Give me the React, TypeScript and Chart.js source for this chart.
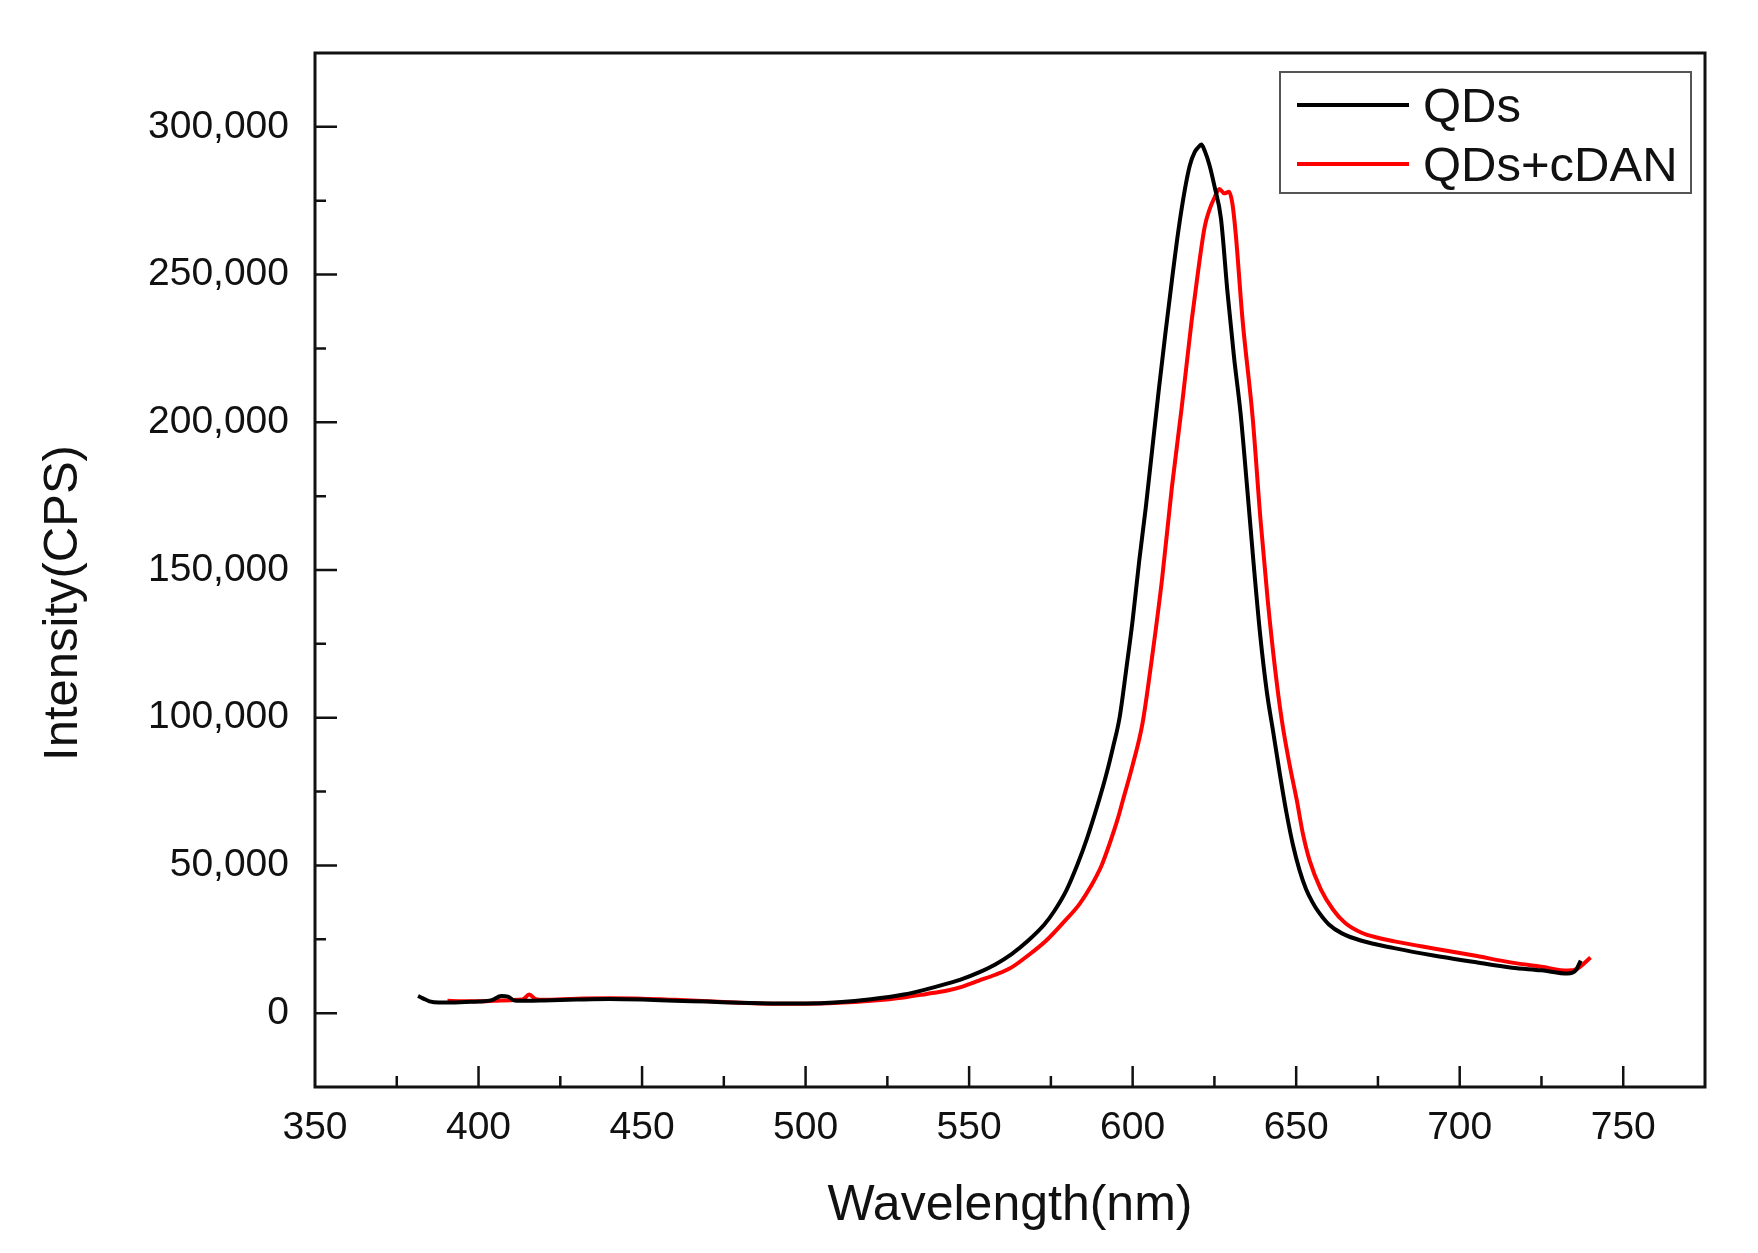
import { useEffect, useRef } from "react";
import { Chart, registerables } from "chart.js";
import type { Plugin } from "chart.js";

Chart.register(...registerables);

// QDs spectrum (black)
const qdsWavelength = [
  381.5, 383, 385, 388, 392, 396, 400, 404, 407, 409, 411, 415, 420, 430, 440, 450,
  460, 470, 480, 490, 500, 510, 520, 530, 536, 543, 548, 553, 558, 563, 568, 573,
  576, 579.7, 583, 586, 589.7, 592, 594, 596, 598, 600, 602, 604, 606, 608, 610, 612,
  614, 616, 617.5, 619, 620, 621, 622, 623.5, 625, 627, 629, 631, 633, 635, 637, 639,
  641, 643, 645, 647, 649, 651, 653, 655, 657, 660, 664, 670, 680, 692, 704, 716,
  725, 733, 735.5, 737,
];
const qdsIntensity = [
  5800, 5000, 4000, 3600, 3600, 3800, 3900, 4400, 5800, 5600, 4300, 4200, 4300, 4600, 4800, 4600,
  4200, 3900, 3500, 3300, 3300, 3700, 4700, 6300, 7800, 9900, 11600, 13800, 16500, 20000, 24500, 30000,
  34500, 41500, 50000, 59000, 72000, 81000, 90000, 100000, 116000, 133000, 153000, 171000, 191000, 211000, 230000, 248000,
  265000, 279000, 287000, 291500, 293000, 294000, 292000, 287000, 280000, 269000, 244000, 222000, 203000, 178000, 152000, 128000,
  109000, 95000, 81000, 68000, 57000, 48500, 42000, 37500, 34000, 30000, 27000, 24500, 22000, 19500, 17400, 15400,
  14500, 13400, 14500, 17800,
];

// QDs+cDAN spectrum (red)
const cdanWavelength = [
  390.5, 395, 400, 405, 410, 413.5, 415.5, 417.5, 420, 430, 440, 450, 460, 470, 480, 490,
  500, 510, 520, 530, 537, 543, 548, 553, 558, 563, 568, 573.6, 578.5, 583.8, 587, 590.5,
  593, 595.5, 597, 600, 603, 606, 609, 612, 615, 618, 620, 622, 623.5, 625,
  626.5, 628, 629.5, 630.5, 631.5, 633.6, 636.7, 639.1, 641.3, 643.5, 645.6, 648,
  650.2, 652, 654.1, 657.5, 661.3, 665, 670, 675, 680, 692, 704, 716, 725, 733, 736, 738, 740,
];
const cdanIntensity = [
  4200, 4000, 4000, 4200, 4400, 4600, 6300, 4700, 4500, 4900, 5000, 4900, 4500, 4000, 3500, 3200,
  3200, 3500, 4200, 5300, 6500, 7600, 9000, 11000, 13000, 15500, 19500, 24600, 30300, 37000, 42500, 50000,
  57500, 66000, 72000, 84000, 98000, 121000, 147000, 178000, 205000, 234000, 251000, 266000, 272000, 276000,
  279000, 277500, 278000, 274000, 264000, 234700, 201500, 166900, 139800, 117000, 99200, 84000,
  72000, 61000, 51700, 42000, 35000, 30500, 27200, 25500, 24300, 21900, 19600, 17100, 15700, 14400, 15000, 16800, 18800,
];

const seriesLabels = ["QDs", "QDs+cDAN"];
const seriesColors = ["#000000", "#ff0000"];
const xTitle = "Wavelength(nm)";
const yTitle = "Intensity(CPS)";

const FONT = '"Liberation Sans", Arial, sans-serif';
const INK = "#111111";

const toPoints = (xs: number[], ys: number[]) => xs.map((x, i) => ({ x, y: ys[i] }));

// frame, inward ticks, axis titles and legend box
const decorPlugin: Plugin<"line"> = {
  id: "decor",
  afterDatasetsDraw(chart) {
    const { ctx, chartArea: a, scales } = chart;
    const xs = scales.x;
    const ys = scales.y;
    ctx.save();

    ctx.strokeStyle = INK;
    ctx.lineWidth = 3;
    ctx.strokeRect(a.left, a.top, a.right - a.left, a.bottom - a.top);

    ctx.lineWidth = 2.5;
    ctx.beginPath();
    xs.ticks.forEach((t) => {
      const px = xs.getPixelForValue(t.value);
      if (px <= a.left + 2 || px >= a.right - 2) return;
      const len = t.value % 50 === 0 ? 21 : 11;
      ctx.moveTo(px, a.bottom);
      ctx.lineTo(px, a.bottom - len);
    });
    ys.ticks.forEach((t) => {
      const py = ys.getPixelForValue(t.value);
      if (py <= a.top + 2 || py >= a.bottom - 2) return;
      const len = t.value % 50000 === 0 ? 22 : 11;
      ctx.moveTo(a.left, py);
      ctx.lineTo(a.left + len, py);
    });
    ctx.stroke();

    // axis titles
    ctx.fillStyle = INK;
    ctx.font = `50px ${FONT}`;
    ctx.textAlign = "center";
    ctx.textBaseline = "alphabetic";
    ctx.fillText(xTitle, (a.left + a.right) / 2, a.bottom + 133);
    ctx.save();
    ctx.translate(77, (a.top + a.bottom) / 2 + 33);
    ctx.rotate(-Math.PI / 2);
    ctx.font = `49px ${FONT}`;
    ctx.fillText(yTitle, 0, 0);
    ctx.restore();

    // legend
    const bx = a.right - 425;
    const by = a.top + 19;
    ctx.strokeStyle = "#555555";
    ctx.lineWidth = 2;
    ctx.strokeRect(bx, by, 411, 121);
    ctx.font = `49px ${FONT}`;
    ctx.textAlign = "left";
    ctx.textBaseline = "middle";
    chart.data.datasets.forEach((ds, i) => {
      const cy = by + 33 + i * 59;
      ctx.strokeStyle = ds.borderColor as string;
      ctx.lineWidth = 4;
      ctx.beginPath();
      ctx.moveTo(bx + 17, cy);
      ctx.lineTo(bx + 129, cy);
      ctx.stroke();
      ctx.fillStyle = INK;
      ctx.fillText(ds.label ?? "", bx + 143, cy + 3);
    });

    ctx.restore();
  },
};

function SpectrumChart() {
  const chartRef = useRef<HTMLCanvasElement>(null);
  const chartInstance = useRef<Chart<"line"> | null>(null);

  useEffect(() => {
    if (!chartRef.current) return;
    if (chartInstance.current) {
      chartInstance.current.destroy();
    }
    const ctx = chartRef.current.getContext("2d");
    if (!ctx) return;

    const datasets = [
      toPoints(qdsWavelength, qdsIntensity),
      toPoints(cdanWavelength, cdanIntensity),
    ].map((data, i) => ({
      label: seriesLabels[i],
      data,
      borderColor: seriesColors[i],
      backgroundColor: seriesColors[i],
      borderWidth: 4,
      pointRadius: 0,
      fill: false,
      cubicInterpolationMode: "monotone" as const,
    }));

    chartInstance.current = new Chart(ctx, {
      type: "line",
      data: { datasets },
      options: {
        responsive: true,
        maintainAspectRatio: false,
        animation: false,
        layout: { padding: { top: 53, right: 53, left: 0, bottom: 0 } },
        plugins: {
          legend: { display: false },
          tooltip: { enabled: false },
        },
        scales: {
          x: {
            type: "linear",
            min: 350,
            max: 775,
            afterFit: (scale) => {
              scale.height = 166;
            },
            grid: { display: false },
            border: { display: false },
            ticks: {
              stepSize: 25,
              autoSkip: false,
              maxRotation: 0,
              padding: 10,
              color: INK,
              font: { family: FONT, size: 39 },
              callback: (v) => (Number(v) % 50 === 0 && Number(v) <= 750 ? String(v) : ""),
            },
          },
          y: {
            type: "linear",
            min: -25000,
            max: 325000,
            afterFit: (scale) => {
              scale.width = 315;
            },
            grid: { display: false },
            border: { display: false },
            ticks: {
              stepSize: 25000,
              autoSkip: false,
              padding: 18,
              color: INK,
              font: { family: FONT, size: 39 },
              callback: (v) => {
                const n = Number(v);
                return n % 50000 === 0 && n >= 0 && n <= 300000 ? n.toLocaleString("en-US") : "";
              },
            },
          },
        },
      },
      plugins: [decorPlugin],
    });

    return () => {
      if (chartInstance.current) {
        chartInstance.current.destroy();
        chartInstance.current = null;
      }
    };
  }, []);

  return <canvas ref={chartRef} />;
}

export default function App() {
  return (
    <div style={{ position: "absolute", left: 0, top: 0, width: 1758, height: 1253, background: "#ffffff" }}>
      <SpectrumChart />
    </div>
  );
}
